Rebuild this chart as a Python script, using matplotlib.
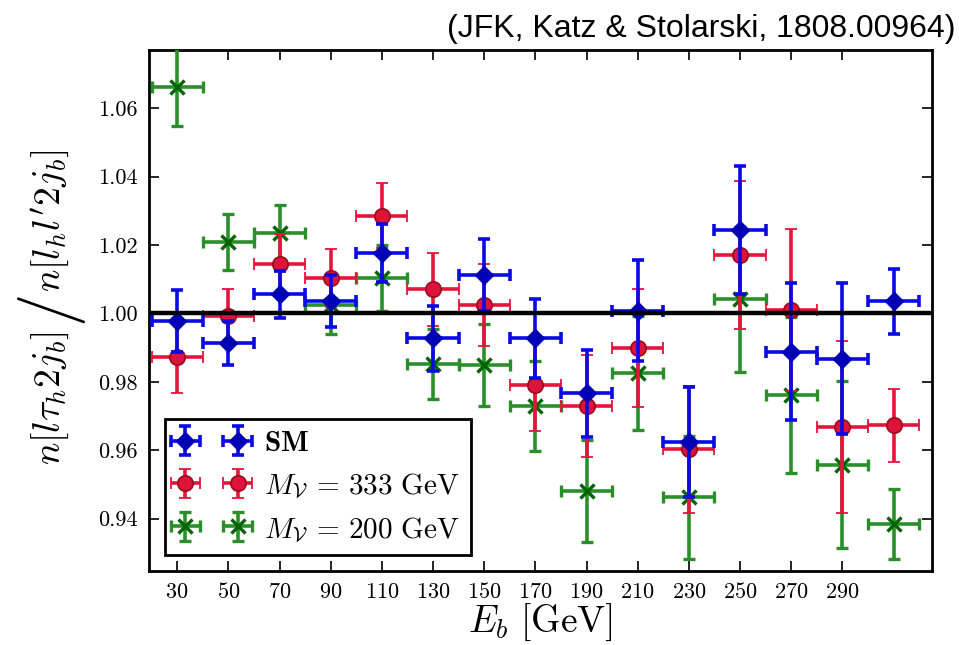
import numpy as np
import matplotlib
matplotlib.use("Agg")
import matplotlib.pyplot as plt

plt.rcParams['font.family'] = 'serif'
plt.rcParams['font.serif'] = ['cmr10']
plt.rcParams['mathtext.fontset'] = 'cm'
plt.rcParams['axes.unicode_minus'] = False
plt.rcParams['axes.formatter.use_mathtext'] = True

# bin centres (GeV), half width 10 GeV
e_b = np.array([30, 50, 70, 90, 110, 130, 150, 170, 190, 210, 230, 250, 270, 290, 310])
x_err = np.full(len(e_b), 10)

# SM
sm_val = [0.9977, 0.9914, 1.0056, 1.0036, 1.0176, 0.9927, 1.0112, 0.9927, 0.9766,
          1.0008, 0.9624, 1.0244, 0.9888, 0.9868, 1.0036]
sm_err = [0.0090, 0.0065, 0.0068, 0.0075, 0.0085, 0.0095, 0.0105, 0.0115, 0.0128,
          0.0147, 0.0160, 0.0187, 0.0200, 0.0220, 0.0095]

# M_V = 333 GeV
m333_val = [0.9873, 0.9992, 1.0143, 1.0104, 1.0286, 1.0070, 1.0024, 0.9792, 0.9729,
            0.9899, 0.9603, 1.0171, 1.0010, 0.9668, 0.9673]
m333_err = [0.0107, 0.0080, 0.0090, 0.0085, 0.0096, 0.0107, 0.0120, 0.0135, 0.0150,
            0.0172, 0.0186, 0.0216, 0.0236, 0.0250, 0.0107]

# M_V = 200 GeV
m200_val = [1.0663, 1.0210, 1.0236, 1.0024, 1.0104, 0.9852, 0.9849, 0.9729, 0.9481,
            0.9826, 0.9462, 1.0041, 0.9761, 0.9558, 0.9385]
m200_err = [0.0114, 0.0082, 0.0080, 0.0083, 0.0097, 0.0103, 0.0120, 0.0132, 0.0150,
            0.0166, 0.0180, 0.0212, 0.0228, 0.0245, 0.0102]

fig = plt.figure(figsize=(9.59, 6.45), dpi=100)
ax = fig.add_axes([0.1554, 0.1147, 0.8164, 0.8078])

common = dict(ls='none', elinewidth=2.6, capsize=4.5, capthick=2.6)
ax.errorbar(e_b, sm_val, xerr=x_err, yerr=sm_err, marker='D', ms=9,
            color='#0a0ae6', mfc='#0000b4', mec='#0000b4', label=r'$\mathbf{SM}$',
            zorder=5, **common)
ax.errorbar(e_b, m333_val, xerr=x_err, yerr=m333_err, marker='o', ms=11,
            color='#e6143c', mfc='#dc143c', mec='#a00a1e', mew=1.3,
            label=r'$M_{\mathcal{V}}\,=\,333\ \mathrm{GeV}$', zorder=4, **common)
ax.errorbar(e_b, m200_val, xerr=x_err, yerr=m200_err, marker='x', ms=10, mew=2.4,
            color='#2a8f2a', mec='#006400',
            label=r'$M_{\mathcal{V}}\,=\,200\ \mathrm{GeV}$', zorder=3, **common)

ax.axhline(1.0, color='black', lw=3.2, zorder=6)

ax.set_xlim(19, 325)
ax.set_ylim(0.9247, 1.077)
ax.set_xticks(np.arange(30, 300, 20))
ax.set_yticks(np.arange(0.94, 1.07, 0.02))
ax.yaxis.set_major_formatter(matplotlib.ticker.FormatStrFormatter('%.2f'))
ax.tick_params(direction='in', top=True, right=True, length=7, width=1.2,
               labelsize=16, pad=8)
for s in ax.spines.values():
    s.set_linewidth(2)

ax.set_xlabel(r'$E_b\ [\mathrm{GeV}]$', fontsize=27, labelpad=0)

# y label in three pieces so the slash can be large
ylab_x = 0.053
fig.text(ylab_x, 0.486, r'$n[l\tau_h2j_b]$', fontsize=27, rotation=90,
         ha='center', va='top')
fig.text(ylab_x + 0.001, 0.517, r'$/$', fontsize=48, rotation=90,
         ha='center', va='center')
fig.text(ylab_x, 0.548, r'$n[l_hl^\prime2j_b]$', fontsize=27, rotation=90,
         ha='center', va='bottom')

leg = ax.legend(loc='lower left', bbox_to_anchor=(0.02, 0.03), borderaxespad=0,
                numpoints=2, fancybox=False, framealpha=1, edgecolor='black',
                fontsize=21, handlelength=2.4, handletextpad=0.6, labelspacing=0.5,
                borderpad=0.4)
leg.get_frame().set_linewidth(2)

fig.text(0.996, 0.978, '(JFK, Katz & Stolarski, 1808.00964)',
         family='Liberation Sans', fontsize=23, ha='right', va='top')

fig.savefig('out.png', dpi=100)
